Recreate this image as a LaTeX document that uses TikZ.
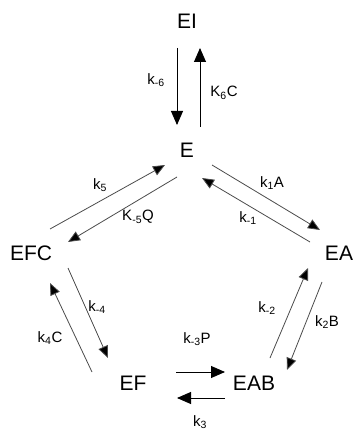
\documentclass[tikz,border=0pt]{standalone}
\usepackage{fontspec}
\setmainfont{Liberation Sans}
\usetikzlibrary{arrows.meta}
\tikzset{
  species/.style={font=\fontsize{21}{24}\selectfont, inner sep=0pt},
  rate/.style={font=\fontsize{15}{18}\selectfont, inner sep=0pt},
  rxn/.style={line width=0.8pt, draw=black!70, -{Triangle[length=12pt,width=10pt,fill=black]}},
  rxnv/.style={line width=0.9pt, draw=black, -{Triangle[length=14pt,width=12pt]}}
}
\begin{document}
\begin{tikzpicture}[x=1pt,y=-1pt]
\useasboundingbox[fill=white] (0,0) rectangle (354,430);
% species
\node[species] (EI)  at (187,21)  {EI};
\node[species] (E)   at (187,150) {E};
\node[species] (EFC) at (31,253)  {EFC};
\node[species] (EA)  at (339,253) {EA};
\node[species] (EF)  at (133,383) {EF};
\node[species] (EAB) at (254,383) {EAB};
% arrow end points
\coordinate (p1s) at (177,48);  \coordinate (p1e) at (177,125);
\coordinate (p2s) at (200,127); \coordinate (p2e) at (200,48);
\coordinate (p3s) at (50,229);  \coordinate (p3e) at (165,165);
\coordinate (p4s) at (177,177); \coordinate (p4e) at (68,242);
\coordinate (p5s) at (212,165); \coordinate (p5e) at (320,230);
\coordinate (p6s) at (310,242); \coordinate (p6e) at (202,178);
\coordinate (p7s) at (270,358); \coordinate (p7e) at (308,268);
\coordinate (p8s) at (322,282); \coordinate (p8e) at (287,370);
\coordinate (p9s) at (68,268);  \coordinate (p9e) at (108,358);
\coordinate (p10s) at (92,372); \coordinate (p10e) at (50,283);
\coordinate (p11s) at (176,372); \coordinate (p11e) at (225,372);
\coordinate (p12s) at (225,398); \coordinate (p12e) at (177,398);
% arrows
\draw[rxnv] (p1s) -- (p1e);
\draw[rxnv] (p2s) -- (p2e);
\draw[rxn] (p3s) -- (p3e);
\draw[rxn] (p4s) -- (p4e);
\draw[rxn] (p5s) -- (p5e);
\draw[rxn] (p6s) -- (p6e);
\draw[rxn] (p7s) -- (p7e);
\draw[rxn] (p8s) -- (p8e);
\draw[rxn] (p9s) -- (p9e);
\draw[rxn] (p10s) -- (p10e);
\draw[rxnv] (p11s) -- (p11e);
\draw[rxnv] (p12s) -- (p12e);
% rate labels
\node[rate] (l1)  at (156,80)  {k\textsubscript{-6}};
\node[rate] (l2)  at (224,93)  {K\textsubscript{6}C};
\node[rate] (l3)  at (100,185) {k\textsubscript{5}};
\node[rate] (l4)  at (138,217) {K\textsubscript{-5}Q};
\node[rate] (l5)  at (272,183) {k\textsubscript{1}A};
\node[rate] (l6)  at (248,218) {k\textsubscript{-1}};
\node[rate] (l7)  at (267,308) {k\textsubscript{-2}};
\node[rate] (l8)  at (327,322) {k\textsubscript{2}B};
\node[rate] (l9)  at (97,307)  {k\textsubscript{-4}};
\node[rate] (l10) at (50,338)  {k\textsubscript{4}C};
\node[rate] (l11) at (197,339) {k\textsubscript{-3}P};
\node[rate] (l12) at (200,422) {k\textsubscript{3}};
\end{tikzpicture}
\end{document}
